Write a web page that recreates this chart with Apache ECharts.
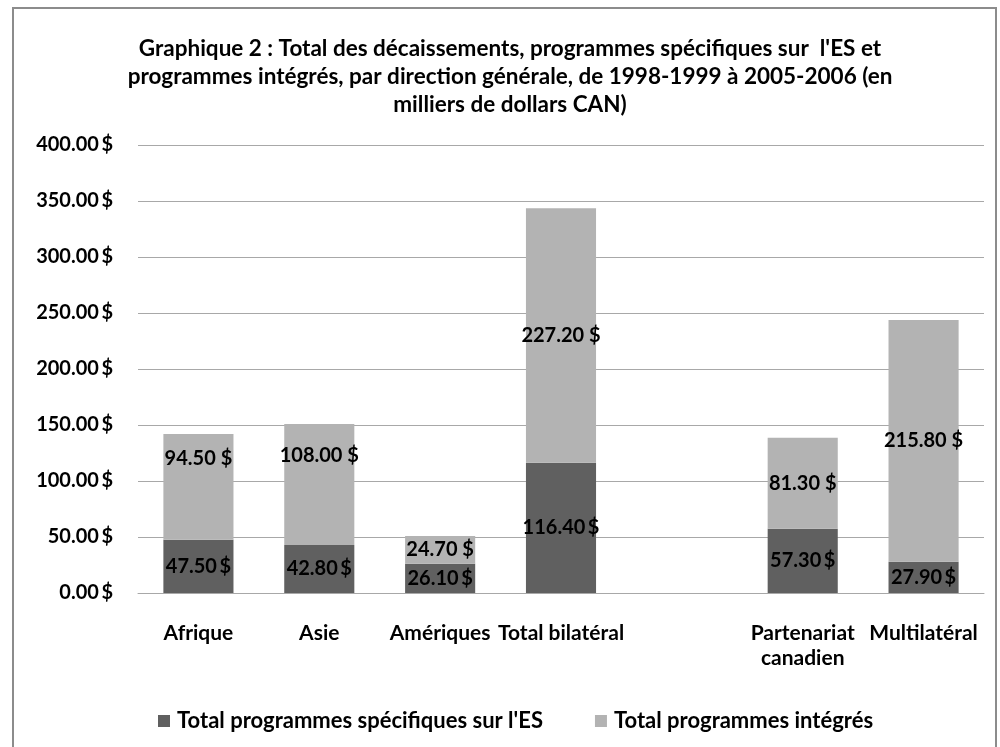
<!DOCTYPE html>
<html>
<head>
<meta charset="utf-8">
<script src="https://cdn.jsdelivr.net/npm/echarts@6/dist/echarts.min.js"></script>
<style>
    html, body { margin: 0; padding: 0; background: #fff; }
    #main { width: 1000px; height: 747px; }
</style>
</head>
<body>
<div id="main"></div>
<script>
// categories (the empty one is the gap in the picture)
var categories = ['Afrique', 'Asie', 'Amériques', 'Total bilatéral', '', 'Partenariat\ncanadien', 'Multilatéral'];
var specifiques = [47.5, 42.8, 26.1, 116.4, '-', 57.3, 27.9];
var integres = [94.5, 108.0, 24.7, 227.2, '-', 81.3, 215.8];
// Afrique and Asie labels of the light segment sit higher in the picture
var integresLabelOffset = [-28, -29, 0, 0, 0, 0, 0];
var seriesNames = ['Total programmes spécifiques sur l\'ES', 'Total programmes intégrés'];

var font = 'Lato';
var chart = echarts.init(document.getElementById('main'));

function money(v) {
    return v.toFixed(2) + '\u2009$';
}

var option = {
    backgroundColor: '#fff',
    animation: false,
    title: {
        text: 'Graphique 2 : Total des décaissements, programmes spécifiques sur  l\'ES et\nprogrammes intégrés, par direction générale, de 1998-1999 à 2005-2006 (en\nmilliers de dollars CAN)',
        left: 505,
        textAlign: 'center',
        top: 30,
        textStyle: {
            fontFamily: font,
            fontSize: 22.5,
            fontWeight: 'bold',
            color: '#000',
            lineHeight: 28
        }
    },
    legend: {
        top: 705,
        left: 153,
        itemWidth: 12,
        itemHeight: 12,
        itemGap: 52,
        icon: 'rect',
        textStyle: { fontFamily: font, fontSize: 22, fontWeight: 'bold', color: '#000', padding: [0, 0, 0, 2] },
        data: seriesNames
    },
    grid: { left: 138, right: 16, top: 145, bottom: 154 },
    xAxis: {
        type: 'category',
        data: categories,
        axisLine: { lineStyle: { color: '#a8a8a8' } },
        axisTick: { show: false },
        axisLabel: {
            interval: 0,
            fontFamily: font,
            fontSize: 21,
            fontWeight: 'bold',
            color: '#000',
            margin: 28,
            lineHeight: 25
        }
    },
    yAxis: {
        type: 'value',
        min: 0,
        max: 400,
        interval: 50,
        axisLine: { show: false },
        axisTick: { show: false },
        splitLine: { lineStyle: { color: '#a8a8a8' } },
        axisLabel: {
            fontFamily: font,
            fontSize: 20,
            fontWeight: 'bold',
            color: '#000',
            margin: 25,
            formatter: function (v) { return money(v); }
        }
    },
    series: [{
        name: seriesNames[0],
        type: 'bar',
        stack: 'total',
        barWidth: '58%',
        itemStyle: { color: '#606060' },
        label: {
            show: true,
            position: 'inside',
            fontFamily: font,
            fontSize: 20,
            fontWeight: 'bold',
            color: '#000',
            formatter: function (p) { return money(p.value); }
        },
        data: specifiques
    }, {
        name: seriesNames[1],
        type: 'bar',
        stack: 'total',
        itemStyle: { color: '#b3b3b3' },
        label: {
            show: true,
            position: 'inside',
            fontFamily: font,
            fontSize: 20,
            fontWeight: 'bold',
            color: '#000',
            formatter: function (p) { return p.value.toFixed(2) + ' $'; }
        },
        data: integres.map(function (v, i) {
            if (v === '-') return v;
            return { value: v, label: { offset: [0, integresLabelOffset[i]] } };
        })
    }],
    graphic: [{
        type: 'rect',
        shape: { x: 13, y: 8, width: 983, height: 760 },
        style: { fill: 'none', stroke: '#8c8c8c', lineWidth: 2 },
        silent: true
    }]
};

chart.setOption(option);
</script>
</body>
</html>
